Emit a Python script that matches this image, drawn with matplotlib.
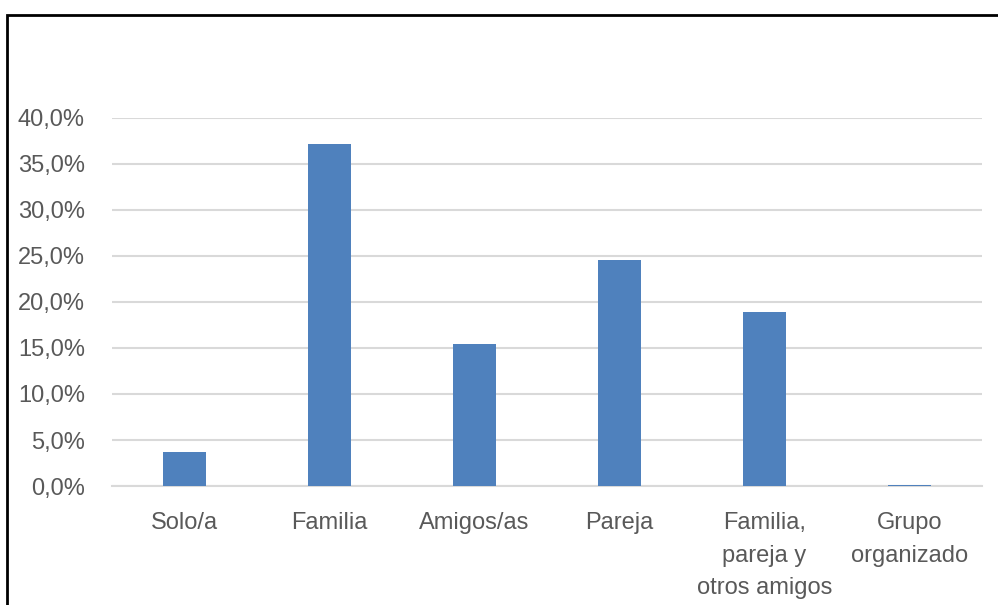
import matplotlib
matplotlib.use("Agg")
from matplotlib import pyplot as plt
from matplotlib.patches import Rectangle
from matplotlib.ticker import FuncFormatter

categories = ["Solo/a", "Familia", "Amigos/as", "Pareja",
              "Familia,\npareja y\notros amigos", "Grupo\norganizado"]
values = [3.7, 37.2, 15.4, 24.6, 18.9, 0.1]
yticks = [0, 5, 10, 15, 20, 25, 30, 35, 40]

plt.rcParams['font.family'] = ['Liberation Sans Narrow', 'Liberation Sans', 'DejaVu Sans']

fig = plt.figure(figsize=(9.98, 6.05), dpi=100)
ax = fig.add_axes([112 / 998, 1 - 486 / 605, 870 / 998, 368 / 605])

x = range(len(categories))
ax.bar(x, values, width=0.30, color='#4f81bd', zorder=3)

ax.set_xlim(-0.5, len(categories) - 0.5)
ax.set_ylim(0, 40)
ax.set_yticks(yticks)
ax.yaxis.set_major_formatter(FuncFormatter(lambda v, p: '{:.1f}%'.format(v).replace('.', ',')))
ax.set_xticks(list(x))
ax.set_xticklabels(categories, linespacing=1.6, va='top')

ax.grid(axis='y', color='#d9d9d9', linewidth=1.5, zorder=0)
for s in ['top', 'right', 'left']:
    ax.spines[s].set_visible(False)
ax.spines['bottom'].set_color('#d9d9d9')
ax.spines['bottom'].set_linewidth(1.5)
ax.tick_params(axis='both', length=0, labelsize=17, colors='#595959')
ax.tick_params(axis='x', pad=19)
ax.tick_params(axis='y', pad=19.5)

# outer chart frame (right and bottom edges fall outside the image)
fig.patches.append(Rectangle((7 / 998, -0.1), 1.2, 1 - 15 / 605 + 0.1,
                             transform=fig.transFigure, fill=False,
                             edgecolor='black', linewidth=2))

fig.savefig("out.png", dpi=100)
